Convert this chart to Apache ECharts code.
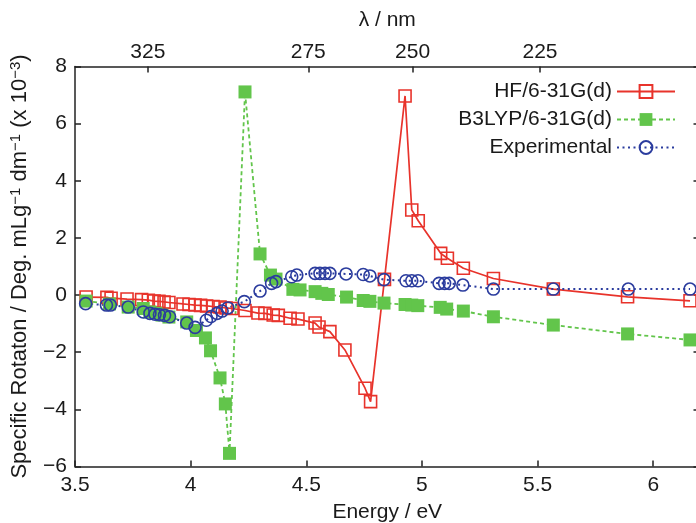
<!DOCTYPE html>
<html>
<head>
<meta charset="utf-8">
<script src="https://cdn.jsdelivr.net/npm/echarts@6/dist/echarts.min.js"></script>
<style>
html,body{margin:0;padding:0;background:#fff;}
#chart{width:696px;height:523px;}
</style>
</head>
<body>
<div id="chart"></div>
<script>
// ---- Data ----
const energyHF = [3.548,3.638,3.656,3.725,3.788,3.817,3.842,3.863,3.885,3.906,3.967,3.993,4.019,4.043,4.069,4.097,4.127,4.153,4.179,4.235,4.291,4.321,4.357,4.379,4.430,4.464,4.538,4.555,4.602,4.667,4.754,4.778,4.838,4.927,4.956,4.984,5.081,5.110,5.179,5.309,5.568,5.889,6.159];
const valuesHF = [-0.07,-0.08,-0.11,-0.14,-0.16,-0.18,-0.21,-0.22,-0.24,-0.26,-0.31,-0.33,-0.35,-0.36,-0.38,-0.40,-0.42,-0.45,-0.47,-0.54,-0.63,-0.64,-0.70,-0.71,-0.81,-0.84,-0.98,-1.12,-1.28,-1.92,-3.26,-3.73,0.55,6.97,2.98,2.60,1.46,1.29,0.94,0.58,0.21,-0.06,-0.20];

const energyB3 = [3.548,3.649,3.730,3.795,3.824,3.850,3.876,3.906,3.983,4.025,4.064,4.086,4.127,4.150,4.168,4.235,4.300,4.345,4.369,4.442,4.473,4.538,4.567,4.595,4.674,4.746,4.775,4.836,4.927,4.956,4.982,5.079,5.107,5.179,5.309,5.568,5.889,6.159];
const valuesB3 = [-0.21,-0.31,-0.42,-0.47,-0.59,-0.64,-0.70,-0.77,-0.94,-1.24,-1.50,-1.95,-2.90,-3.81,-5.54,7.11,1.44,0.70,0.56,0.20,0.18,0.12,0.06,0.02,-0.07,-0.19,-0.22,-0.28,-0.33,-0.35,-0.37,-0.43,-0.49,-0.56,-0.76,-1.05,-1.36,-1.57];

const energyExp = [3.546,3.636,3.653,3.730,3.795,3.824,3.846,3.865,3.887,3.909,3.983,4.019,4.068,4.088,4.114,4.136,4.161,4.232,4.300,4.350,4.369,4.437,4.459,4.538,4.559,4.581,4.602,4.672,4.746,4.775,4.836,4.931,4.956,4.983,5.074,5.098,5.118,5.177,5.309,5.568,5.892,6.159];
const valuesExp = [-0.30,-0.35,-0.35,-0.42,-0.59,-0.64,-0.67,-0.69,-0.71,-0.76,-0.98,-1.13,-0.88,-0.75,-0.64,-0.56,-0.45,-0.23,0.14,0.41,0.47,0.64,0.70,0.76,0.76,0.76,0.76,0.74,0.72,0.67,0.54,0.50,0.50,0.50,0.41,0.41,0.41,0.35,0.21,0.21,0.21,0.21];

const seriesNames = ['HF/6-31G(d)', 'B3LYP/6-31G(d)', 'Experimental'];
const xTicks = [3.5, 4, 4.5, 5, 5.5, 6];
const yTicks = [-6, -4, -2, 0, 2, 4, 6, 8];
const lambdaTicks = [325, 275, 250, 225]; // nm
const HC = 1239.84; // eV*nm

// ---- Build ----
const zip = (xs, ys) => xs.map((x, i) => [x, ys[i]]);
const FONT = "'Liberation Sans', Arial, Helvetica, sans-serif";
const TXT = '#1a1a1a';
const RED = '#e8332b', GREEN = '#62c54b', BLUE = '#2b3c9e';
const fmtNum = v => (v < 0 ? '\u2212' + (-v) : String(v));

const chart = echarts.init(document.getElementById('chart'), null, {renderer: 'canvas'});
const axisLineStyle = {color: '#222', width: 1.5};

chart.setOption({
  animation: false,
  backgroundColor: '#fff',
  textStyle: {fontFamily: FONT, color: TXT},
  grid: {left: 75, top: 66.5, width: 624.5, height: 400, containLabel: false, outerBoundsMode: 'none'},
  legend: {
    data: seriesNames,
    right: 20, top: 81,
    padding: 0,
    orient: 'vertical',
    align: 'right',
    itemWidth: 58, itemHeight: 16,
    itemGap: 7,
    textStyle: {fontFamily: FONT, fontSize: 21, color: TXT, lineHeight: 20},
    selectedMode: false
  },
  xAxis: [{
    type: 'value', position: 'bottom', min: 3.5, max: 6.2,
    name: 'Energy / eV', nameLocation: 'middle', nameGap: 35,
    nameTextStyle: {fontFamily: FONT, fontSize: 21, color: TXT},
    axisLine: {show: true, onZero: false, lineStyle: axisLineStyle},
    axisTick: {show: true, inside: true, length: 6, lineStyle: axisLineStyle, customValues: xTicks},
    axisLabel: {show: true, fontFamily: FONT, fontSize: 21, color: TXT, margin: 8, customValues: xTicks,
      formatter: v => String(v)},
    splitLine: {show: false}
  }, {
    type: 'value', position: 'top', min: 3.5, max: 6.2,
    name: '\u03bb / nm', nameLocation: 'middle', nameGap: 36,
    nameTextStyle: {fontFamily: FONT, fontSize: 21, color: TXT},
    axisLine: {show: true, onZero: false, lineStyle: axisLineStyle},
    axisTick: {show: true, inside: true, length: 6, lineStyle: axisLineStyle, customValues: lambdaTicks.map(l => HC / l)},
    axisLabel: {show: true, fontFamily: FONT, fontSize: 21, color: TXT, margin: 4,
      customValues: lambdaTicks.map(l => HC / l),
      formatter: v => String(Math.round(HC / v))},
    splitLine: {show: false}
  }],
  yAxis: [{
    type: 'value', position: 'left', min: -6, max: 8, interval: 2,
    name: 'Specific Rotaton / Deg. mLg{sup|\u22121} dm{sup|\u22121} (x 10{sup|\u22123})',
    nameLocation: 'middle', nameGap: 43, nameRotate: 90,
    nameTextStyle: {fontFamily: FONT, fontSize: 22, color: TXT, lineHeight: 24,
      rich: {sup: {fontFamily: FONT, fontSize: 15, color: TXT, lineHeight: 12, verticalAlign: 'top'}}},
    axisLine: {show: true, onZero: false, lineStyle: axisLineStyle},
    axisTick: {show: true, inside: true, length: 6, lineStyle: axisLineStyle},
    axisLabel: {show: true, fontFamily: FONT, fontSize: 21, color: TXT, margin: 8, formatter: fmtNum},
    splitLine: {show: false}
  }, {
    type: 'value', position: 'right', min: -6, max: 8, interval: 2,
    axisLine: {show: true, onZero: false, lineStyle: axisLineStyle},
    axisTick: {show: true, inside: true, length: 6, lineStyle: axisLineStyle},
    axisLabel: {show: false},
    splitLine: {show: false}
  }],
  series: [{
    name: seriesNames[0], type: 'line', data: zip(energyHF, valuesHF),
    symbol: 'rect', symbolSize: 12, showAllSymbol: true,
    itemStyle: {color: 'rgba(0,0,0,0)', borderColor: RED, borderWidth: 1.6},
    lineStyle: {color: RED, width: 1.7, type: 'solid'}
  }, {
    name: seriesNames[1], type: 'line', data: zip(energyB3, valuesB3),
    symbol: 'rect', symbolSize: 13, showAllSymbol: true,
    itemStyle: {color: GREEN, borderWidth: 0},
    lineStyle: {color: GREEN, width: 1.8, type: [4, 3]}
  }, {
    name: seriesNames[2], type: 'line', data: zip(energyExp, valuesExp),
    symbol: 'circle', symbolSize: 12, showAllSymbol: true,
    itemStyle: {color: 'rgba(0,0,0,0)', borderColor: BLUE, borderWidth: 1.6},
    lineStyle: {color: BLUE, width: 2, type: [2, 3.5]}
  }]
});
</script>
</body>
</html>
